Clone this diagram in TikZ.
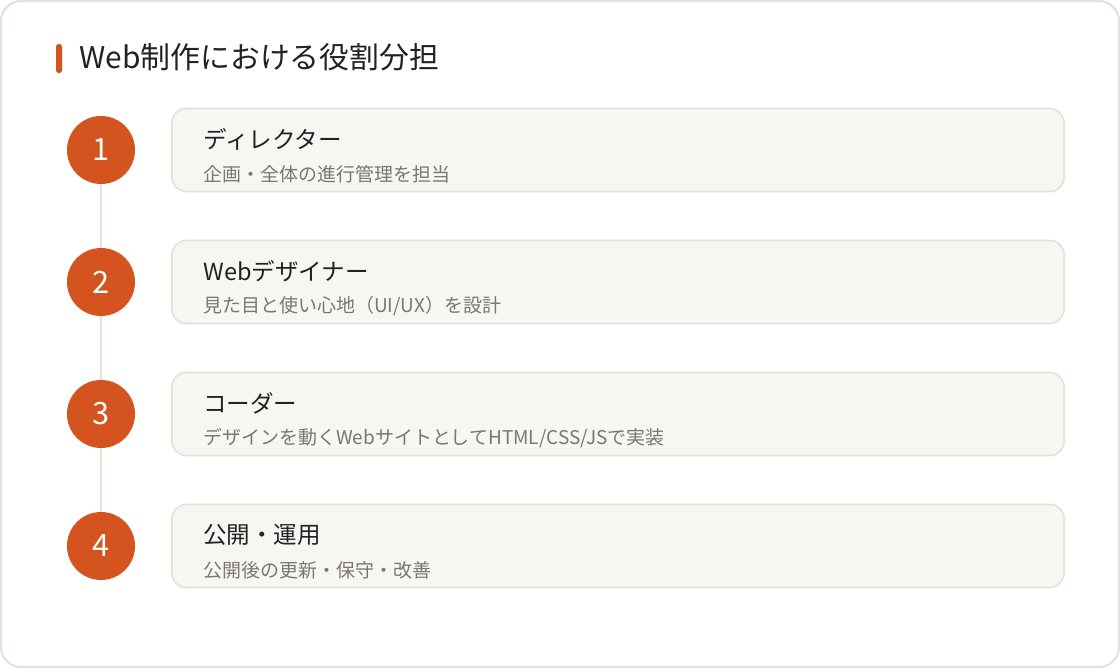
\documentclass[tikz,border=0pt]{standalone}
\usepackage{fontspec}
\setmainfont{Noto Sans CJK JP}
\usepackage{xcolor}
\usetikzlibrary{calc, positioning}

\definecolor{accent}{HTML}{D4531E}
\definecolor{edge}{HTML}{E5E2D8}
\definecolor{cardbg}{HTML}{F7F6F2}
\definecolor{ink}{HTML}{222222}
\definecolor{subink}{HTML}{7B7670}

\tikzset{
	stepnum/.style={circle, fill=accent, minimum size=68*0.02cm, inner sep=0pt, text=white, font=\fontsize{17.5}{20}\selectfont},
	card/.style={draw=edge, line width=0.9pt, fill=cardbg, rounded corners=0.28cm, minimum width=892*0.02cm, minimum height=83*0.02cm, inner sep=0pt},
	roletitle/.style={anchor=west, inner sep=0pt, text=ink, font=\fontsize{13.4}{16}\selectfont},
	rolesub/.style={anchor=west, inner sep=0pt, text=subink, font=\fontsize{10.8}{13}\selectfont}
}

\begin{document}
\begin{tikzpicture}[x=0.02cm, y=-0.02cm]

		\useasboundingbox (0, 0) rectangle (1120, 668);
		\draw[edge, line width=1.2pt, fill=white, rounded corners=0.4cm] (1, 1) rectangle (1119, 667);

		% heading
		\fill[accent, rounded corners=1.5pt] (56, 44) rectangle (62, 73);
		\node[anchor=west, inner sep=0pt, text=ink, font=\fontsize{17}{20}\selectfont] (heading) at (79, 57) {Web制作における役割分担};

		\foreach \i in {1, ..., 4} {
				\node[card] (c\i) at (618, 150+132*\i-132) {};
				\node[stepnum] (n\i) at (101, 150+132*\i-132) {\i};
			}

		\foreach \i/\j in {1/2, 2/3, 3/4} {
				\draw[edge, line width=1.7pt] (n\i.south) -- (n\j.north);
			}

		\node[roletitle] (t1) at (203, 139) {ディレクター};
		\node[rolesub] (s1) at (203, 174) {企画・全体の進行管理を担当};
		\node[roletitle] (t2) at (203, 271) {Webデザイナー};
		\node[rolesub] (s2) at (203, 306) {見た目と使い心地（UI/UX）を設計};
		\node[roletitle] (t3) at (203, 403) {コーダー};
		\node[rolesub] (s3) at (203, 438) {デザインを動くWebサイトとしてHTML/CSS/JSで実装};
		\node[roletitle] (t4) at (203, 535) {公開・運用};
		\node[rolesub] (s4) at (203, 570) {公開後の更新・保守・改善};
	\end{tikzpicture}
\end{document}
